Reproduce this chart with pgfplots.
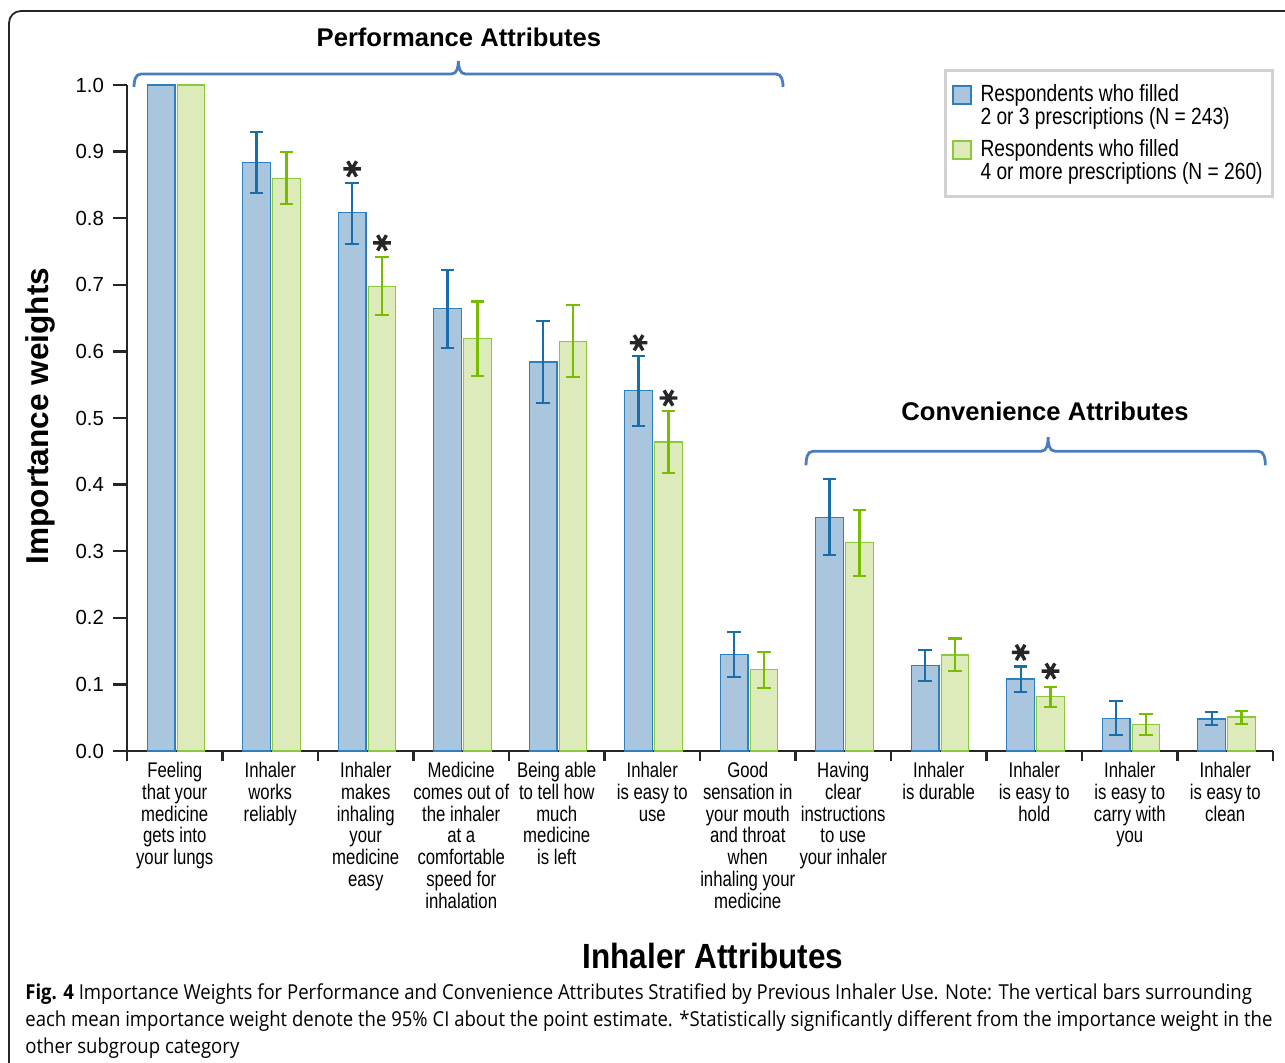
\documentclass[border=0pt]{standalone}
\usepackage{fontspec}
\setmainfont{Liberation Sans}
\newfontfamily\narrowfont{Liberation Sans}[FakeStretch=0.79]
\newfontfamily\legfont{Liberation Sans}[FakeStretch=0.82]
\newfontfamily\narrowbold{Liberation Sans Bold}[FakeStretch=0.9]
\newfontfamily\capfont{Open Sans}[FakeStretch=0.9]
\usepackage{pgfplots}
\pgfplotsset{compat=1.18}
\definecolor{bfill}{RGB}{169,198,222}
\definecolor{bedge}{RGB}{45,128,190}
\definecolor{berr}{RGB}{25,110,170}
\definecolor{gfill}{RGB}{221,234,185}
\definecolor{gedge}{RGB}{140,200,60}
\definecolor{gerr}{RGB}{120,188,0}
\definecolor{bracecol}{RGB}{75,125,190}
\pgfplotsset{
  sqlegend/.style={legend image code/.code={\path[draw=none, fill=none] (0pt,-10pt) rectangle (9pt,10pt); \draw[##1, line width=0.8pt] (0pt,1pt) rectangle (9pt,10pt);}},
}
\begin{document}
\begin{tikzpicture}
\useasboundingbox (-63.5pt,-156pt) rectangle (579pt,375.5pt);
\draw[black!85, line width=0.9pt, rounded corners=6pt] (-59pt,-165pt) -- (-59pt,370pt) -- (590pt,370pt);
\begin{axis}[
  at={(0,0)}, anchor=south west,
  scale only axis, width=573pt, height=333pt,
  xmin=-0.5, xmax=11.5, ymin=0, ymax=1,
  axis lines=left,
  axis line style={-, line width=1.2pt, black!85},
  clip=false,
  xtick={0,1,2,3,4,5,6,7,8,9,10,11},
  xticklabels={
    {Feeling\\that your\\medicine\\gets into\\your lungs},
    {Inhaler\\works\\reliably},
    {Inhaler\\makes\\inhaling\\your\\medicine\\easy},
    {Medicine\\comes out of\\the inhaler\\at a\\comfortable\\speed for\\inhalation},
    {Being able\\to tell how\\much\\medicine\\is left},
    {Inhaler\\is easy to\\use},
    {Good\\sensation in\\your mouth\\and throat\\when\\inhaling your\\medicine},
    {Having\\clear\\instructions\\to use\\your inhaler},
    {Inhaler\\is durable},
    {Inhaler\\is easy to\\hold},
    {Inhaler\\is easy to\\carry with\\you},
    {Inhaler\\is easy to\\clean}},
  minor xtick={-0.5,0.5,1.5,2.5,3.5,4.5,5.5,6.5,7.5,8.5,9.5,10.5,11.5},
  major x tick style={draw=none},
  minor x tick style={line width=1.2pt, black!85},
  ytick={0,0.1,0.2,0.3,0.4,0.5,0.6,0.7,0.8,0.9,1.0},
  y tick style={line width=1.2pt, black!85},
  major tick length=7pt, minor tick length=5pt,
  tick align=outside,
  xticklabel style={font=\narrowfont\fontsize{10.6}{10.9}\selectfont, align=center, yshift=5pt},
  yticklabel style={font=\fontsize{10.2}{12}\selectfont, xshift=-1pt, /pgf/number format/.cd, fixed, fixed zerofill, precision=1, assume math mode=true},
  ylabel={Importance weights},
  ylabel style={at={(-0.0759,0.503)}, anchor=center, font=\bfseries\fontsize{15.8}{17}\selectfont},
  legend style={at={(1.001,1.024)}, anchor=north east, draw=black!18, line width=1.5pt,
    font=\legfont\fontsize{11.7}{11.5}\selectfont, inner xsep=3pt, inner ysep=5pt,
    row sep=2pt, column sep=2.5pt, cells={anchor=west, align=left}},
]
% group 1 (no CI)
\addplot[ybar, bar width=0.29, bar shift=0, fill=bfill, draw=bedge, line width=0.6pt, forget plot]
  coordinates {(-0.143,1.0)};
\addplot[ybar, bar width=0.29, bar shift=0, fill=gfill, draw=gedge, line width=0.6pt, forget plot]
  coordinates {(0.170,1.0)};
% blue: 2 or 3 prescriptions
\addplot[ybar, bar width=0.29, bar shift=0, fill=bfill, draw=bedge, line width=0.6pt, sqlegend,
  error bars/.cd, y dir=both, y explicit,
  error bar style={line width=1.1pt, color=berr},
  error mark options={rotate=90, mark size=3.4pt, line width=1.1pt, color=berr}]
  coordinates {
  (0.857,0.884) += (0,0.045) -= (0,0.046)
  (1.857,0.808) += (0,0.045) -= (0,0.047)
  (2.857,0.664) += (0,0.058) -= (0,0.059)
  (3.857,0.584) += (0,0.062) -= (0,0.061)
  (4.857,0.541) += (0,0.052) -= (0,0.053)
  (5.857,0.145) += (0,0.034) -= (0,0.034)
  (6.857,0.351) += (0,0.057) -= (0,0.057)
  (7.857,0.128) += (0,0.024) -= (0,0.023)
  (8.857,0.108) += (0,0.019) -= (0,0.020)
  (9.857,0.049) += (0,0.026) -= (0,0.025)
  (10.857,0.048) += (0,0.010) -= (0,0.009)
  };
\addlegendentry{Respondents who filled\\2 or 3 prescriptions (N = 243)}
% green: 4 or more prescriptions
\addplot[ybar, bar width=0.29, bar shift=0, fill=gfill, draw=gedge, line width=0.6pt, sqlegend,
  error bars/.cd, y dir=both, y explicit,
  error bar style={line width=1.1pt, color=gerr},
  error mark options={rotate=90, mark size=3.4pt, line width=1.1pt, color=gerr}]
  coordinates {
  (1.170,0.860) += (0,0.039) -= (0,0.039)
  (2.170,0.698) += (0,0.044) -= (0,0.043)
  (3.170,0.619) += (0,0.056) -= (0,0.056)
  (4.170,0.615) += (0,0.055) -= (0,0.054)
  (5.170,0.464) += (0,0.046) -= (0,0.046)
  (6.170,0.122) += (0,0.027) -= (0,0.027)
  (7.170,0.313) += (0,0.049) -= (0,0.050)
  (8.170,0.144) += (0,0.025) -= (0,0.024)
  (9.170,0.082) += (0,0.014) -= (0,0.016)
  (10.170,0.040) += (0,0.016) -= (0,0.016)
  (11.170,0.051) += (0,0.009) -= (0,0.010)
  };
\addlegendentry{Respondents who filled\\4 or more prescriptions (N = 260)}
% significance asterisks
\addplot[only marks, mark=asterisk, mark size=4.4pt, mark options={rotate=90, line width=1.7pt, black!85}, forget plot]
  coordinates {(1.857,0.874) (2.170,0.763) (4.857,0.613) (5.170,0.530) (8.857,0.148) (9.170,0.120)};
% braces
\draw[bracecol, line width=1.4pt]
  (axis cs:-0.427,0.997) to[out=90,in=180] ([xshift=3.5pt,yshift=6.5pt]axis cs:-0.427,0.997)
  -- ([xshift=-3.5pt,yshift=6.5pt]axis cs:2.97,0.997) to[out=0,in=-90] ([yshift=13pt]axis cs:2.97,0.997)
  to[out=-90,in=180] ([xshift=3.5pt,yshift=6.5pt]axis cs:2.97,0.997)
  -- ([xshift=-3.5pt,yshift=6.5pt]axis cs:6.37,0.997) to[out=0,in=90] (axis cs:6.37,0.997);
\draw[bracecol, line width=1.4pt]
  (axis cs:6.61,0.429) to[out=90,in=180] ([xshift=3.5pt,yshift=7pt]axis cs:6.61,0.429)
  -- ([xshift=-3.5pt,yshift=7pt]axis cs:9.145,0.429) to[out=0,in=-90] ([yshift=14pt]axis cs:9.145,0.429)
  to[out=-90,in=180] ([xshift=3.5pt,yshift=7pt]axis cs:9.145,0.429)
  -- ([xshift=-3.5pt,yshift=7pt]axis cs:11.42,0.429) to[out=0,in=90] (axis cs:11.42,0.429);
% group titles
\node[font=\bfseries\fontsize{12.8}{14}\selectfont] at (axis cs:2.976,1.072) {Performance Attributes};
\node[font=\bfseries\fontsize{12.8}{14}\selectfont] at (axis cs:9.113,0.5105) {Convenience Attributes};
\node[font=\narrowbold\fontsize{17.5}{19}\selectfont] at (axis cs:5.636,-0.3078) {Inhaler Attributes};
\end{axis}
% caption
\node[anchor=base west, inner sep=0pt, font=\capfont\fontsize{10.3}{13}\selectfont] at (-51pt,-124.5pt)
  {\textbf{Fig. 4} Importance Weights for Performance and Convenience Attributes Stratified by Previous Inhaler Use. Note: The vertical bars surrounding};
\node[anchor=base west, inner sep=0pt, font=\capfont\fontsize{10.3}{13}\selectfont] at (-51pt,-138pt)
  {each mean importance weight denote the 95\% CI about the point estimate. *Statistically significantly different from the importance weight in the};
\node[anchor=base west, inner sep=0pt, font=\capfont\fontsize{10.3}{13}\selectfont] at (-51pt,-151.5pt)
  {other subgroup category};
\end{tikzpicture}
\end{document}
